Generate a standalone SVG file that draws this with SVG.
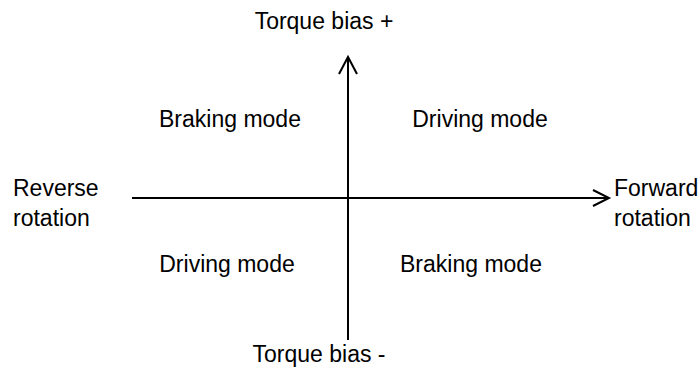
<svg xmlns="http://www.w3.org/2000/svg" width="700" height="372" viewBox="0 0 700 372">
<style>
text{font-family:"Liberation Sans",Arial,sans-serif;font-size:23px;fill:#000}
.c{text-anchor:middle}
.ax{stroke:#000;stroke-width:2;fill:none}
</style>
<rect width="700" height="372" fill="#fff"/>
<g id="connectors">
<line class="ax" x1="132" y1="198" x2="609" y2="198"/>
<polyline class="ax" points="593,190 609,198 593,206"/>
<line class="ax" x1="348" y1="340" x2="348" y2="57"/>
<polyline class="ax" points="339,74 348,57 357,74"/>
</g>
<g id="torque-plus"><text class="c" x="324" y="29">Torque bias +</text></g>
<g id="torque-minus"><text class="c" x="319" y="362">Torque bias -</text></g>
<g id="braking-tl"><text class="c" x="230" y="127">Braking mode</text></g>
<g id="driving-tr"><text class="c" x="480" y="127">Driving mode</text></g>
<g id="driving-bl"><text class="c" x="227" y="272">Driving mode</text></g>
<g id="braking-br"><text class="c" x="471" y="272">Braking mode</text></g>
<g id="reverse"><text x="13" y="196">Reverse</text><text x="13" y="226">rotation</text></g>
<g id="forward"><text x="614" y="196">Forward</text><text x="614" y="226">rotation</text></g>
</svg>
